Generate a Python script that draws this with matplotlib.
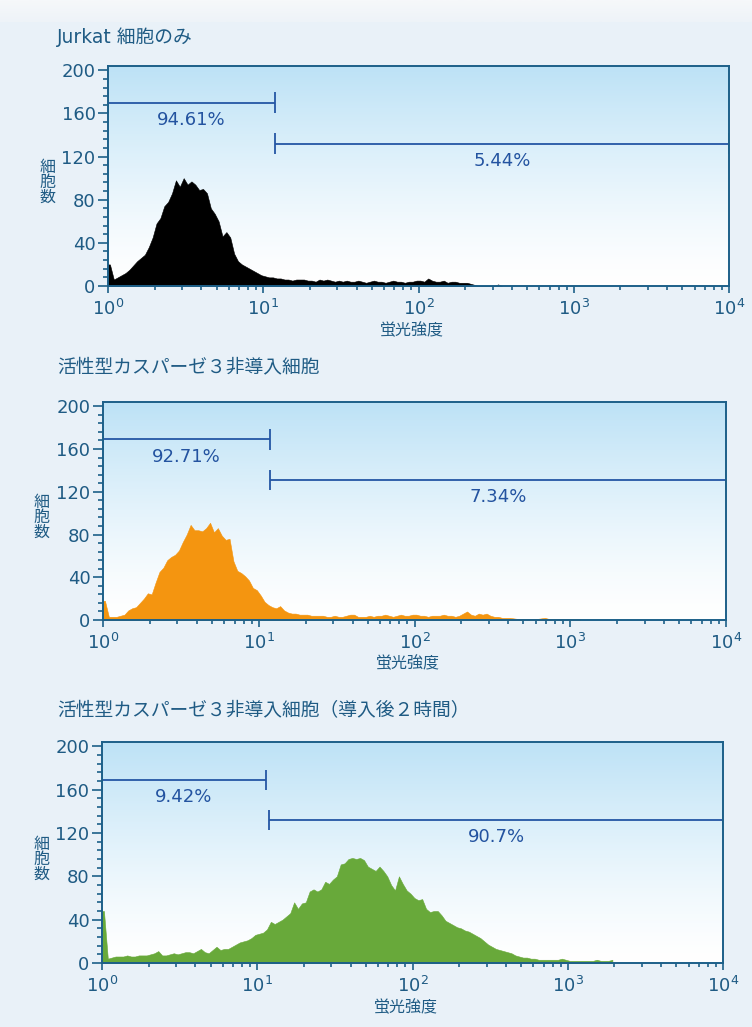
import numpy as np
import matplotlib
matplotlib.use("Agg")
import matplotlib.pyplot as plt
from matplotlib.ticker import FixedLocator, FixedFormatter, MultipleLocator, LogLocator, NullFormatter

plt.rcParams['font.family'] = ['DejaVu Sans', 'Noto Sans CJK JP']

# bins are 0.025 decades wide, starting at 10^0
BIN_STEP = 0.025

jurkat_counts = [
    20, 6, 8, 10, 12, 15, 19, 23, 26, 29, 36, 45, 58, 63, 74, 78, 86, 98, 92, 100,
    94, 97, 94, 89, 90, 86, 72, 67, 60, 46, 50, 45, 30, 23, 20, 18, 16, 14, 12, 10,
    9, 8, 8, 7, 7, 6, 6, 5, 6, 6, 6, 5, 5, 4, 6, 5, 6, 5, 4, 5,
    4, 5, 4, 4, 5, 4, 3, 4, 5, 4, 4, 3, 4, 5, 4, 4, 3, 4, 4, 5,
    5, 4, 7, 5, 4, 4, 5, 3, 4, 4, 3, 3, 3, 2, 1, 0,
    0, 0, 0, 0, 1.5, 0,
]
neg_counts = [
    18, 3, 3, 3, 4, 5, 9, 11, 12, 16, 20, 25, 24, 35, 45, 49, 56, 59, 61, 65,
    73, 80, 89, 84, 84, 83, 86, 91, 82, 86, 79, 75, 76, 55, 46, 44, 41, 37, 30, 28,
    23, 17, 14, 12, 11, 13, 9, 7,
    6, 6, 5, 5, 5, 4, 4, 4, 4, 3, 3, 4, 3, 3, 4, 5, 5, 3, 3, 3,
    4, 3, 4, 4, 5, 4, 3, 4, 5, 4, 4, 5,
    5, 4, 4, 3, 4, 4, 4, 5, 4, 4, 3, 4, 6, 8, 5, 4, 6, 5, 6, 4, 3, 3, 2, 2, 2, 1.5,
    1, 1, 1, 1, 1, 1, 1.5, 2, 1, 1, 1, 1, 1, 1, 0.8, 0.8, 0.5,
]
pos_counts = [
    48, 4, 5, 6, 6, 6, 7, 6, 6, 7, 7, 7, 8, 9, 11, 7, 7, 8, 9, 8,
    9, 10, 10, 9, 11, 13, 10, 9, 12, 15, 12, 13, 13, 15, 17, 19, 20, 21, 23, 26,
    27, 28, 31, 38, 36, 38, 40, 43, 46, 56, 50, 55, 56, 66, 68, 66, 68, 75, 73, 77,
    80,
    91, 92, 96, 97, 96, 97, 95, 89, 87, 85, 89, 85, 80, 72, 67, 80, 73, 67, 64, 60,
    58, 59, 50, 47, 48, 48, 44, 39, 37, 35, 33, 32, 30, 29, 27, 25, 23, 20, 17, 15,
    13, 12, 11, 10, 9, 7, 6, 5, 5, 4, 4, 3,
    3, 3, 3, 3, 3, 4, 3, 2, 2, 2, 2, 2, 2, 2, 3, 2, 2, 2, 3,
]

titles = ['Jurkat 細胞のみ',
          '活性型カスパーゼ３非導入細胞',
          '活性型カスパーゼ３非導入細胞（導入後２時間）']
series = [jurkat_counts, neg_counts, pos_counts]
fill_colors = ['#000000', '#f49510', '#68a93a']

# gate markers: (start, end, level) for the low and high regions
gate_low = [(1, 11.9, 170), (1, 11.75, 169), (1, 11.4, 169)]
gate_high = [(11.9, 1e4, 132), (11.75, 1e4, 131), (11.9, 1e4, 132)]
pct_low = ['94.61%', '92.71%', '9.42%']
pct_high = ['5.44%', '7.34%', '90.7%']

y_ticks = [0, 40, 80, 120, 160, 200]
x_ticks = [1, 10, 100, 1000, 10000]
x_tick_labels = [r'$\mathregular{10^{0}}$', r'$\mathregular{10^{1}}$', r'$\mathregular{10^{2}}$',
                 r'$\mathregular{10^{3}}$', r'$\mathregular{10^{4}}$']

W, H = 752, 1027
fig = plt.figure(figsize=(W / 100, H / 100), dpi=100)
fig.patch.set_facecolor('#e9f1f8')

# light band along the top edge
top = fig.add_axes([0, 1 - 22 / H, 1, 22 / H], zorder=0)
top.imshow(np.linspace(0, 1, 20).reshape(-1, 1), cmap=matplotlib.colors.LinearSegmentedColormap.from_list(
    'tb', ['#f6f8fa', '#eef3f8']), aspect='auto', extent=[0, 1, 0, 1])
top.axis('off')

SPINE = '#1d6089'
TXT = '#1f5b84'
GATE = '#2456a4'

# pixel boxes of the three plot areas: left, top, right, bottom
boxes = [(108, 66, 729, 286), (103, 402, 726, 620), (102, 742, 723, 963)]
title_y = [37, 367, 711]

grad_cmap = matplotlib.colors.LinearSegmentedColormap.from_list('bg', ['#ffffff', '#bde2f6'])

for k in range(3):
    l, t, r, b = boxes[k]
    rect = [l / W, 1 - b / H, (r - l) / W, (b - t) / H]

    bg = fig.add_axes(rect, zorder=1)
    bg.imshow(np.linspace(0, 1, 256).reshape(-1, 1)[::-1] ** 1.3, cmap=grad_cmap,
              aspect='auto', extent=[0, 1, 0, 1])
    bg.axis('off')

    ax = fig.add_axes(rect, zorder=2)
    ax.set_facecolor('none')

    counts = np.array(series[k], dtype=float)
    centers = 10 ** (BIN_STEP * (np.arange(len(counts)) + 0.5))
    xs = np.concatenate([[1.0], centers])
    ys = np.concatenate([[counts[0]], counts])
    ax.fill_between(xs, 0, ys, color=fill_colors[k], lw=0.4, ec=fill_colors[k], zorder=2)

    ax.set_xscale('log')
    ax.set_xlim(1, 1e4)
    ax.set_ylim(0, 204)

    ax.xaxis.set_major_locator(FixedLocator(x_ticks))
    ax.xaxis.set_major_formatter(FixedFormatter(x_tick_labels))
    ax.xaxis.set_minor_locator(LogLocator(base=10, subs=np.arange(2, 10)))
    ax.xaxis.set_minor_formatter(NullFormatter())
    ax.yaxis.set_major_locator(FixedLocator(y_ticks))
    ax.yaxis.set_minor_locator(MultipleLocator(8))

    for s in ax.spines.values():
        s.set_color(SPINE)
        s.set_linewidth(1.4)
        s.set_zorder(5)
    ax.tick_params(axis='both', which='both', direction='out', color=SPINE, width=1.2,
                   labelcolor=TXT, labelsize=13)
    ax.tick_params(axis='y', which='major', length=7, pad=2)
    ax.tick_params(axis='y', which='minor', length=3.5)
    ax.tick_params(axis='x', which='major', length=5, pad=4)
    ax.tick_params(axis='x', which='minor', length=3)

    # gates
    for (x0, x1, yv), lab in ((gate_low[k], pct_low[k]), (gate_high[k], pct_high[k])):
        ax.plot([x0, x1], [yv, yv], color=GATE, lw=1.3, zorder=4, solid_capstyle='butt')
        ax.vlines([x0, x1], yv - 9.5, yv + 9.5, color=GATE, lw=1.3, zorder=4)
        ax.text(np.sqrt(x0 * x1), yv - 16, lab, ha='center', va='center',
                fontsize=13, color='#2353a0', zorder=4)

    fig.text(57 / W, 1 - title_y[k] / H, titles[k], ha='left', va='center',
             fontsize=13.5, color=TXT)
    ax.text(-0.098, 0.47, '細\n胞\n数', transform=ax.transAxes, ha='center', va='center',
            fontsize=11.5, color=TXT, linespacing=1.0)
    ax.text(0.49, -0.2, '蛍光強度', transform=ax.transAxes, ha='center', va='center',
            fontsize=11.5, color=TXT)

fig.savefig('out.png', dpi=100, facecolor=fig.get_facecolor())
